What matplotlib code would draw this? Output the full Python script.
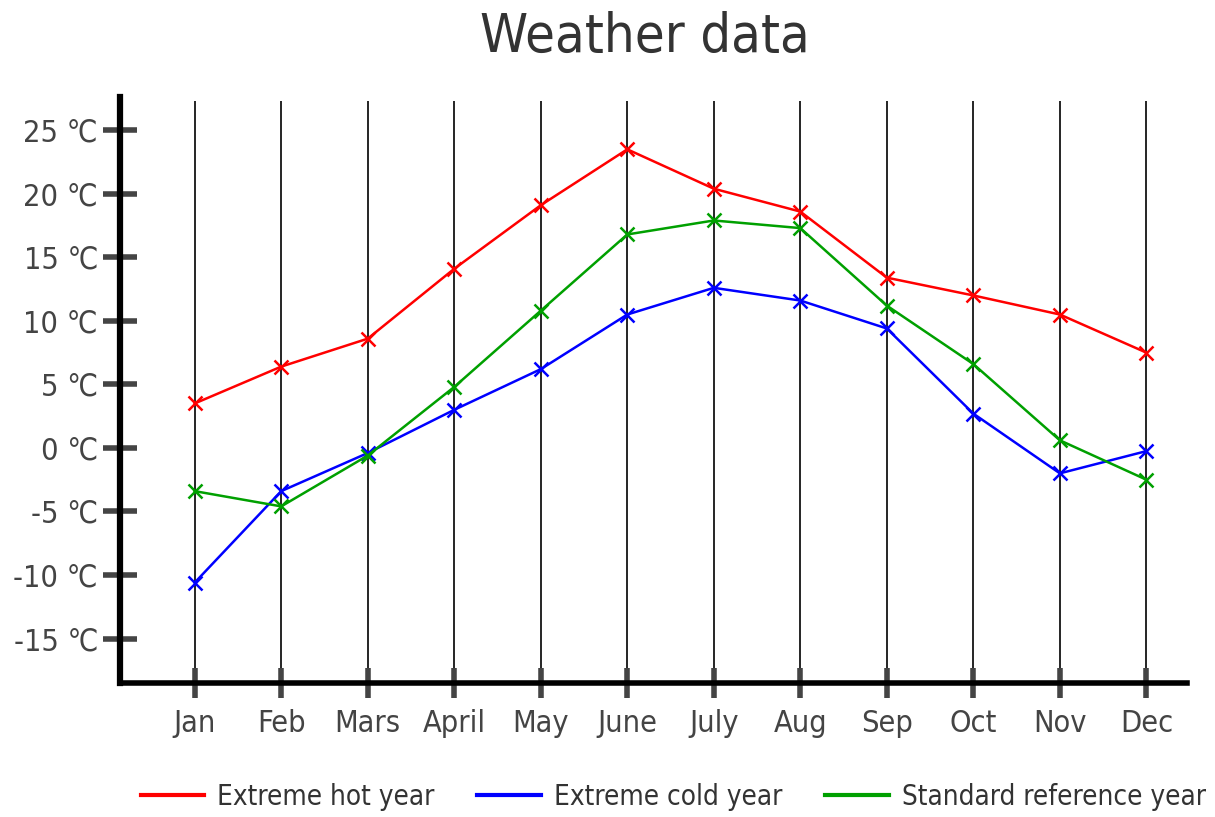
import numpy as np
import matplotlib
matplotlib.use("Agg")
import matplotlib.pyplot as plt

plt.rcParams['font.family'] = ['DejaVu Sans']
plt.rcParams['font.stretch'] = 'condensed'

months = ['Jan', 'Feb', 'Mars', 'April', 'May', 'June', 'July', 'Aug', 'Sep', 'Oct', 'Nov', 'Dec']
hot = [3.5, 6.4, 8.6, 14.1, 19.1, 23.5, 20.4, 18.6, 13.4, 12.0, 10.5, 7.5]
cold = [-10.6, -3.4, -0.4, 3.0, 6.2, 10.5, 12.6, 11.6, 9.4, 2.7, -2.0, -0.25]
standard = [-3.4, -4.6, -0.6, 4.8, 10.8, 16.8, 17.9, 17.3, 11.2, 6.6, 0.6, -2.5]
yticks = [25, 20, 15, 10, 5, 0, -5, -10, -15]

fig = plt.figure(figsize=(12.15, 8.17), dpi=100)
ax = fig.add_axes([0.099, 0.164, 0.878, 0.717])

x = np.arange(len(months))
ax.vlines(x, -18.6, 27.3, color='black', lw=1.2, zorder=1)

ax.plot(x, hot, color='#ff0000', lw=1.8, marker='x', ms=10, mew=1.8, label='Extreme hot year', zorder=3)
ax.plot(x, cold, color='#0000ff', lw=1.8, marker='x', ms=10, mew=1.8, label='Extreme cold year', zorder=3)
ax.plot(x, standard, color='#00a000', lw=1.8, marker='x', ms=10, mew=1.8, label='Standard reference year', zorder=3)

ax.set_xlim(-0.86, 11.47)
ax.set_ylim(-18.5, 27.6)
ax.set_xticks(x)
ax.set_xticklabels(months)
ax.set_yticks(yticks)
ax.set_yticklabels([f'{v} \u2103' for v in yticks])

for s in ['top', 'right']:
    ax.spines[s].set_visible(False)
ax.spines['left'].set_linewidth(4.5)
ax.spines['bottom'].set_linewidth(4)
ax.spines['left'].set_capstyle('projecting')

ax.tick_params(axis='y', direction='inout', length=24, width=4, color='#444444',
               labelsize=22, labelcolor='#444444', pad=4)
ax.tick_params(axis='x', direction='inout', length=22, width=4, color='#444444',
               labelsize=22, labelcolor='#444444', pad=8)

fig.text(0.531, 0.955, 'Weather data', fontsize=39, color='#333333',
         ha='center', va='center')

leg = fig.legend(loc='center', ncol=3, frameon=False, fontsize=20,
                 bbox_to_anchor=(0.554, 0.025), handlelength=2.3, handletextpad=0.45,
                 columnspacing=1.55, labelcolor='#333333')
for line in leg.get_lines():
    line.set_marker('')
    line.set_linewidth(3)

fig.savefig('out.png', dpi=100)
